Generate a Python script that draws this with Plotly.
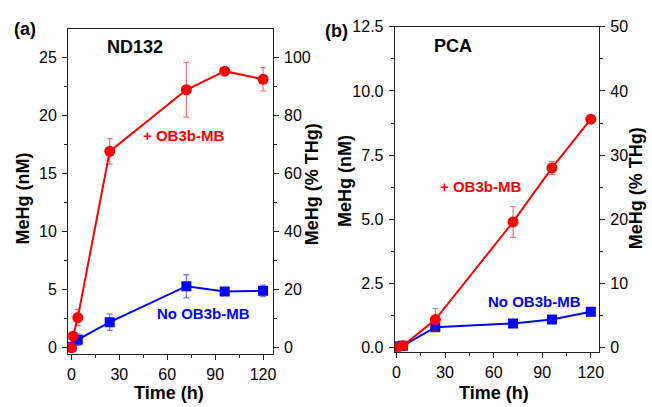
import plotly.graph_objects as go

# ---- data ----
time_a_ob = [0, 1, 4, 24, 72, 96, 120]
mehg_a_ob = [0.0, 1.0, 2.6, 16.9, 22.2, 23.8, 23.1]
err_a_ob = [0.1, 0.2, 0.7, 1.1, 2.35, 0.2, 1.0]
time_a_no = [0, 4, 24, 72, 96, 120]
mehg_a_no = [0.1, 0.7, 2.2, 5.3, 4.85, 4.9]
err_a_no = [0.1, 0.5, 0.7, 1.0, 0.3, 0.5]

time_b_ob = [0, 4, 24, 72, 96, 120]
mehg_b_ob = [0.0, 0.08, 1.1, 4.9, 7.0, 8.9]
err_b_ob = [0.03, 0.05, 0.43, 0.6, 0.25, 0.15]
time_b_no = [0, 4, 24, 72, 96, 120]
mehg_b_no = [0.05, 0.08, 0.8, 0.95, 1.1, 1.4]
err_b_no = [0.02, 0.03, 0.08, 0.06, 0.06, 0.08]

RED = "#ff0000"
BLUE = "#0000ff"
FONT = "Liberation Sans, Arial, sans-serif"

fig = go.Figure()

def add_series(x, y, e, color, symbol, size, xa, ya):
    fig.add_trace(go.Scatter(
        x=x, y=y, mode="lines+markers", xaxis=xa, yaxis=ya,
        line=dict(color=color, width=2),
        marker=dict(color=color, symbol=symbol, size=size),
        error_y=dict(type="data", array=e, visible=True,
                     color="rgba(255,0,0,0.55)" if color == RED else "rgba(0,0,255,0.55)",
                     thickness=1.2, width=3),
        showlegend=False))

add_series(time_a_no, mehg_a_no, err_a_no, BLUE, "square", 10, "x", "y")
add_series(time_a_ob, mehg_a_ob, err_a_ob, RED, "circle", 11, "x", "y")
add_series(time_b_no, mehg_b_no, err_b_no, BLUE, "square", 10, "x2", "y3")
add_series(time_b_ob, mehg_b_ob, err_b_ob, RED, "circle", 11, "x2", "y3")
# placeholder traces so the secondary axes render
fig.add_trace(go.Scatter(x=[None], y=[None], xaxis="x", yaxis="y2", showlegend=False))
fig.add_trace(go.Scatter(x=[None], y=[None], xaxis="x2", yaxis="y4", showlegend=False))

tickfont = dict(family=FONT, size=16, color="black")

axcommon = dict(showline=True, linecolor="#222", linewidth=1.3, ticks="outside",
                ticklen=5, tickwidth=1.2, tickcolor="#222", showgrid=False,
                zeroline=False, tickfont=tickfont)

H = 407.0
W = 652.0
dom_xa = [66 / W, 273 / W]
dom_xb = [396.7 / W, 603.3 / W]
dom_ya = [1 - 357 / H, 1 - 22 / H]
dom_yb = [1 - 355 / H, 1 - 19.3 / H]

def mnr(vals):
    return dict(ticks="outside", tickvals=vals, ticklen=3, tickcolor="#222")

fig.update_layout(
    width=652, height=407, margin=dict(l=0, r=0, t=0, b=0),
    paper_bgcolor="white", plot_bgcolor="white",
    xaxis=dict(domain=dom_xa, anchor="y", range=[-2, 126], tickvals=[0, 30, 60, 90, 120],
               minor=mnr([15, 45, 75, 105]), mirror=True, ticklabelstandoff=1, **axcommon),
    yaxis=dict(domain=dom_ya, anchor="x", range=[-0.5, 27.4], tickvals=[0, 5, 10, 15, 20, 25],
               minor=mnr([2.5, 7.5, 12.5, 17.5, 22.5]), ticklabelstandoff=2, **axcommon),
    yaxis2=dict(domain=dom_ya, anchor="x", overlaying="y", side="right", range=[-2, 109.6],
                tickvals=[0, 20, 40, 60, 80, 100],
                minor=mnr([10, 30, 50, 70, 90]), ticklabelstandoff=2, **axcommon),
    xaxis2=dict(domain=dom_xb, anchor="y3", range=[-1, 125], tickvals=[0, 30, 60, 90, 120],
                minor=mnr([15, 45, 75, 105]), mirror=True, ticklabelstandoff=1, **axcommon),
    yaxis3=dict(domain=dom_yb, anchor="x2", range=[-0.15, 12.5], tickvals=[0, 2.5, 5, 7.5, 10, 12.5],
                tickformat=".1f", minor=mnr([1.25, 3.75, 6.25, 8.75, 11.25]), ticklabelstandoff=2,
                **axcommon),
    yaxis4=dict(domain=dom_yb, anchor="x2", overlaying="y3", side="right", range=[-0.6, 50],
                tickvals=[0, 10, 20, 30, 40, 50],
                minor=mnr([5, 15, 25, 35, 45]), ticklabelstandoff=2, **axcommon),
)

def note(text, x, y, color="black", size=18, angle=0):
    fig.add_annotation(text=f"<b>{text}</b>", x=x / W, y=1 - y / H, xref="paper", yref="paper",
                       showarrow=False, font=dict(family=FONT, size=size, color=color),
                       textangle=angle, xanchor="center", yanchor="middle")

# axis titles
note("MeHg (nM)", 20, 197, angle=-90)
note("MeHg (% THg)", 313, 182, angle=-90)
note("Time (h)", 168, 398)
note("MeHg (nM)", 347, 179, angle=-90)
note("MeHg (% THg)", 641, 186, angle=-90)
note("Time (h)", 497, 398)

# panel labels and series labels
note("(a)", 22, 22)
note("ND132", 134, 40)
note("+ OB3b-MB", 183, 132, RED, 15)
note("No OB3b-MB", 203, 316, BLUE, 15)
note("(b)", 338, 24)
note("PCA", 456, 39)
note("+ OB3b-MB", 483, 184, RED, 15)
note("No OB3b-MB", 538, 303, BLUE, 15)

fig.write_html("out.html")
